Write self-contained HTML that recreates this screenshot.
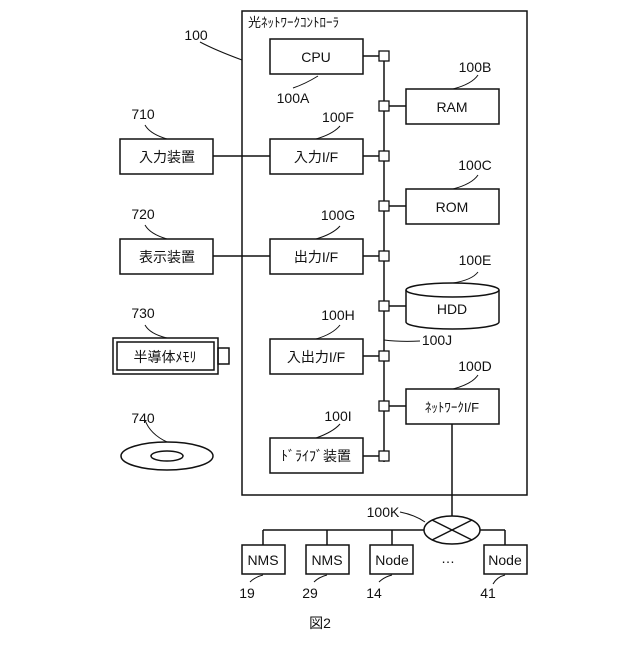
<!DOCTYPE html>
<html><head><meta charset="utf-8"><style>
body{margin:0;background:#fff}
svg text{font-family:"Liberation Sans","Noto Sans CJK JP",sans-serif;fill:#111}
</style></head><body>
<svg width="640" height="640" viewBox="0 0 640 640" xmlns="http://www.w3.org/2000/svg">
<g fill="none" stroke="#111" stroke-width="1.5">
<rect x="242" y="11" width="285" height="484"/>
<rect x="270" y="39" width="93" height="35"/>
<rect x="406" y="89" width="93" height="35"/>
<rect x="270" y="139" width="93" height="35"/>
<rect x="406" y="189" width="93" height="35"/>
<rect x="270" y="239" width="93" height="35"/>
<rect x="270" y="339" width="93" height="35"/>
<rect x="406" y="389" width="93" height="35"/>
<rect x="270" y="438" width="93" height="35"/>
<rect x="120" y="139" width="93" height="35"/>
<rect x="120" y="239" width="93" height="35"/>
<rect x="113" y="338" width="105" height="36"/>
<rect x="117" y="342" width="97" height="28"/>
<rect x="218" y="348" width="11" height="16"/>
<ellipse cx="167" cy="456" rx="46" ry="14"/>
<ellipse cx="167" cy="456" rx="16" ry="5"/>
<path d="M406 290 V322 A46.5 7 0 0 0 499 322 V290"/>
<ellipse cx="452.5" cy="290" rx="46.5" ry="7"/>
<line x1="384" y1="56" x2="384" y2="462"/>
<line x1="363" y1="56" x2="384" y2="56"/>
<line x1="384" y1="106" x2="406" y2="106"/>
<line x1="363" y1="156" x2="384" y2="156"/>
<line x1="384" y1="206" x2="406" y2="206"/>
<line x1="363" y1="256" x2="384" y2="256"/>
<line x1="384" y1="306" x2="406" y2="306"/>
<line x1="363" y1="356" x2="384" y2="356"/>
<line x1="384" y1="406" x2="406" y2="406"/>
<line x1="363" y1="456" x2="384" y2="456"/>
<line x1="213" y1="156" x2="270" y2="156"/>
<line x1="213" y1="256" x2="270" y2="256"/>
<line x1="452" y1="424" x2="452" y2="516"/>
<ellipse cx="452" cy="530" rx="28" ry="14"/>
<line x1="432" y1="520" x2="472" y2="540"/>
<line x1="432" y1="540" x2="472" y2="520"/>
<line x1="263" y1="530" x2="424" y2="530"/>
<line x1="480" y1="530" x2="505" y2="530"/>
<line x1="263" y1="530" x2="263" y2="545"/>
<line x1="327" y1="530" x2="327" y2="545"/>
<line x1="392" y1="530" x2="392" y2="545"/>
<line x1="505" y1="530" x2="505" y2="545"/>
<rect x="242" y="545" width="43" height="29"/>
<rect x="306" y="545" width="43" height="29"/>
<rect x="370" y="545" width="43" height="29"/>
<rect x="484" y="545" width="43" height="29"/>
</g>
<g fill="#fff" stroke="#111" stroke-width="1.3">
<rect x="379" y="51" width="10" height="10"/><rect x="379" y="101" width="10" height="10"/>
<rect x="379" y="151" width="10" height="10"/><rect x="379" y="201" width="10" height="10"/>
<rect x="379" y="251" width="10" height="10"/><rect x="379" y="301" width="10" height="10"/>
<rect x="379" y="351" width="10" height="10"/><rect x="379" y="401" width="10" height="10"/>
<rect x="379" y="451" width="10" height="10"/>
</g>
<g fill="none" stroke="#111" stroke-width="1">
<path d="M200 42 Q215 50 242 60"/>
<path d="M318 76 Q305 84 293 88"/>
<path d="M478 75 Q472 84 453 89"/>
<path d="M340 126 Q333 134 316 139"/>
<path d="M145 125 Q150 134 167 139"/>
<path d="M478 175 Q472 184 453 189"/>
<path d="M340 226 Q333 234 316 239"/>
<path d="M145 225 Q150 234 167 239"/>
<path d="M478 272 Q472 280 453 283"/>
<path d="M340 325 Q333 334 316 339"/>
<path d="M145 325 Q150 334 167 338"/>
<path d="M384 340 Q400 342 420 341"/>
<path d="M478 375 Q472 384 453 389"/>
<path d="M340 424 Q333 432 316 438"/>
<path d="M145 420 Q150 434 167 442"/>
<path d="M400 512 Q415 515 425 522"/>
<path d="M263 575 Q255 577 250 582"/>
<path d="M327 575 Q319 577 314 582"/>
<path d="M392 575 Q384 577 379 582"/>
<path d="M505 575 Q497 577 493 584"/>
</g>
<g font-size="14" text-anchor="middle">
<text x="316" y="62">CPU</text><text x="452" y="112">RAM</text>
<text x="316" y="162">入力I/F</text><text x="452" y="212">ROM</text>
<text x="316" y="262">出力I/F</text><text x="452" y="314">HDD</text>
<text x="316" y="362">入出力I/F</text><text x="452" y="412" font-size="13">ﾈｯﾄﾜｰｸI/F</text>
<text x="316" y="461">ﾄﾞﾗｲﾌﾞ装置</text>
<text x="167" y="162">入力装置</text><text x="167" y="262">表示装置</text>
<text x="165" y="362">半導体ﾒﾓﾘ</text>
<text x="263" y="565">NMS</text><text x="327" y="565">NMS</text>
<text x="392" y="565">Node</text><text x="505" y="565">Node</text>
<text x="448" y="563">…</text>
<text x="196" y="40">100</text><text x="293" y="103">100A</text>
<text x="475" y="72">100B</text><text x="338" y="122">100F</text>
<text x="143" y="119">710</text><text x="475" y="170">100C</text>
<text x="143" y="219">720</text><text x="338" y="220">100G</text>
<text x="475" y="265">100E</text><text x="143" y="318">730</text>
<text x="338" y="320">100H</text><text x="437" y="345">100J</text>
<text x="475" y="371">100D</text><text x="143" y="423">740</text>
<text x="338" y="421">100I</text><text x="383" y="517">100K</text>
<text x="247" y="598">19</text><text x="310" y="598">29</text>
<text x="374" y="598">14</text><text x="488" y="598">41</text>
<text x="320" y="628">図2</text>
</g>
<text x="248" y="27" font-size="13">光ﾈｯﾄﾜｰｸｺﾝﾄﾛｰﾗ</text>
</svg>
</body></html>
